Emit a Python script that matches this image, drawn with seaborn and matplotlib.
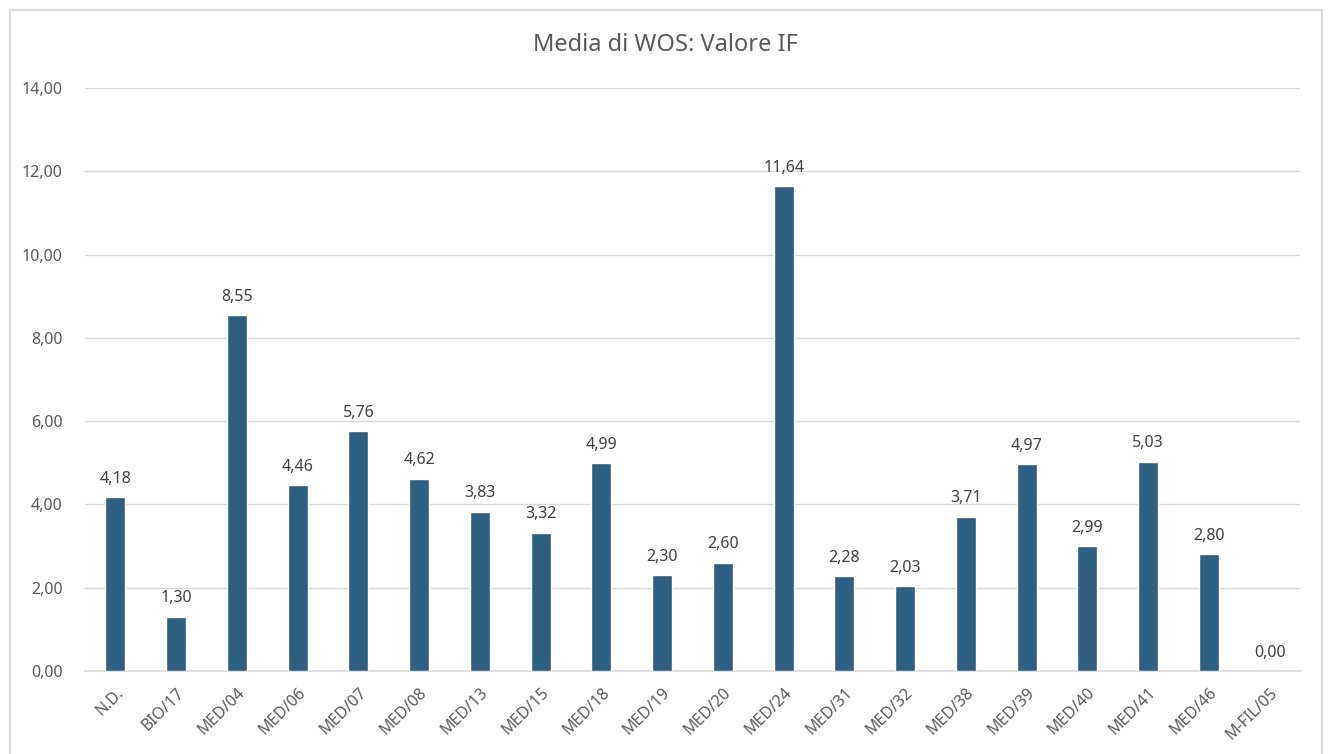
import numpy as np
import pandas as pd
import matplotlib
matplotlib.use("Agg")
import matplotlib.pyplot as plt
import seaborn as sns
from matplotlib.patches import Rectangle

# Dati
categorie = ["N.D.", "BIO/17", "MED/04", "MED/06", "MED/07", "MED/08", "MED/13",
             "MED/15", "MED/18", "MED/19", "MED/20", "MED/24", "MED/31", "MED/32",
             "MED/38", "MED/39", "MED/40", "MED/41", "MED/46", "M-FIL/05"]
valori = [4.18, 1.30, 8.55, 4.46, 5.76, 4.62, 3.83, 3.32, 4.99, 2.30,
          2.60, 11.64, 2.28, 2.03, 3.71, 4.97, 2.99, 5.03, 2.80, 0.00]

data = pd.DataFrame({"SSD": categorie, "IF": valori})

sns.set_style("white")
plt.rcParams['font.family'] = ['Noto Sans', 'DejaVu Sans']

fig = plt.figure(figsize=(13.3, 7.54), dpi=100)
ax = fig.add_axes([85 / 1330, 1 - 671 / 754, 1215 / 1330, 583 / 754])

sns.barplot(x="SSD", y="IF", data=data, color="#2E5F80", width=0.33,
            saturation=1, ax=ax, zorder=3)

ax.set_ylim(0, 14)
ax.set_yticks(np.arange(0, 14.1, 2))
ax.set_yticklabels([f"{v:.2f}".replace(".", ",") for v in np.arange(0, 14.1, 2)],
                   color="#595959", fontsize=11.5)
ax.set_xlim(-0.5, len(categorie) - 0.5)
ax.set_xticks(range(len(categorie)))
ax.set_xticklabels(categorie, rotation=45, ha="right", rotation_mode="anchor",
                   color="#595959", fontsize=11.5)
ax.tick_params(axis="x", length=0, pad=10)
ax.tick_params(axis="y", length=0, pad=16)
ax.yaxis.grid(True, color="#D9D9D9", linewidth=1, zorder=0)
ax.set_xlabel("")
ax.set_ylabel("")
for s in ["top", "right", "left"]:
    ax.spines[s].set_visible(False)
ax.spines["bottom"].set_color("#D9D9D9")
ax.spines["bottom"].set_linewidth(1.2)

# Etichette dei valori
for i, v in enumerate(valori):
    ax.text(i, v + 0.25, f"{v:.2f}".replace(".", ","), ha="center", va="bottom",
            fontsize=11.5, color="#404040")

fig.text(0.5, 1 - 45 / 754, "Media di WOS: Valore IF", ha="center", va="center",
         fontsize=17, color="#595959")

# Cornice del grafico
fig.patches.append(Rectangle((10 / 1330, -0.01), 1312 / 1330, 1 - 10 / 754 + 0.01,
                             transform=fig.transFigure, fill=False,
                             edgecolor="#D9D9D9", linewidth=1.5))

fig.savefig("out.png", dpi=100)
